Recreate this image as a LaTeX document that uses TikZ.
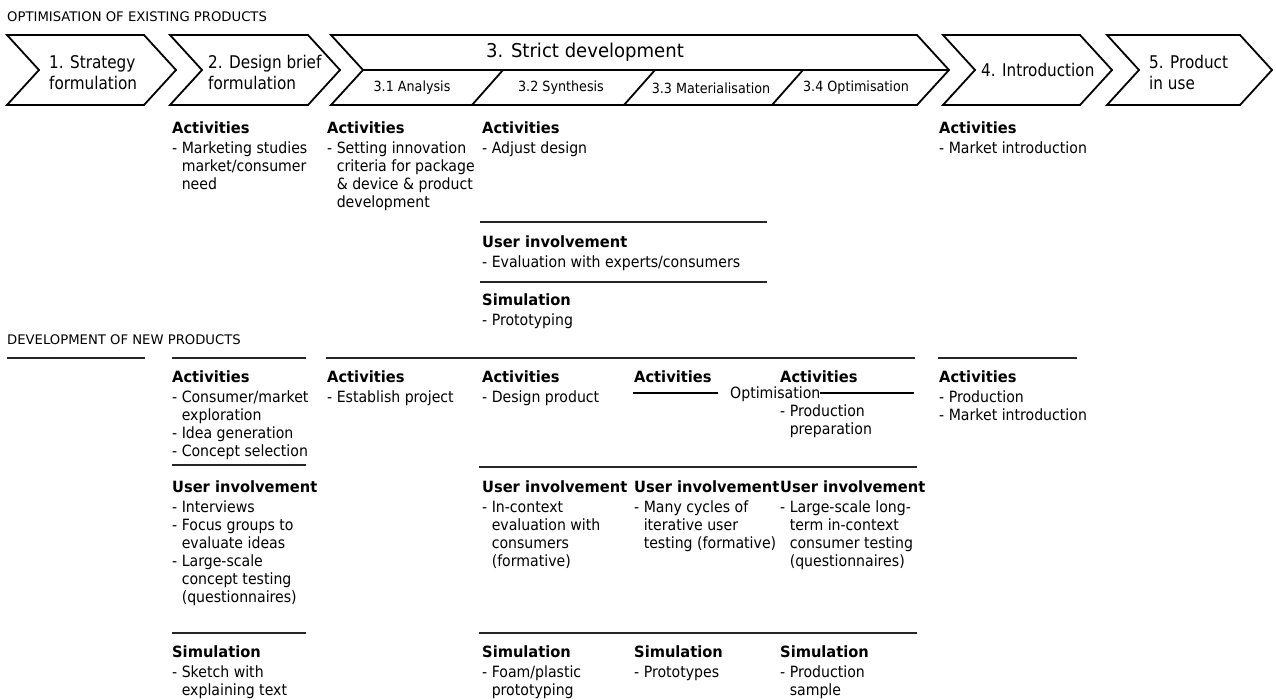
\documentclass[tikz,border=0pt]{standalone}
\usepackage{fontspec}
\setmainfont{DejaVu Sans}[FakeStretch=0.91]
\newfontfamily\headf{DejaVu Sans}[FakeStretch=0.945]
\newfontfamily\capf{DejaVu Sans}
\newfontfamily\arrf{DejaVu Sans}[FakeStretch=0.87]
\newfontfamily\ttlf{DejaVu Sans}[FakeStretch=0.95]
\newcommand\hdr[1]{{\headf\bfseries #1}}
\newcommand\ci{\phantom{- }}
\newcommand\fst{\rule{0pt}{14pt}}
\begin{document}
\begin{tikzpicture}[x=1pt,y=-1pt,
  chev/.style={draw=black,line width=1.8pt,line join=miter,fill=white},
  sepl/.style={draw=black!85,line width=2.5pt},
  optl/.style={draw=black,line width=2pt},
  blk/.style={anchor=north west,inner sep=0pt,align=left,font=\fontsize{15.5}{18}\selectfont},
  alab/.style={inner sep=0pt,align=left,font=\arrf\fontsize{17.5}{21}\selectfont},
  slab/.style={inner sep=0pt,font=\fontsize{14}{16}\selectfont},
  ttl/.style={anchor=west,inner sep=0pt,font=\capf\fontsize{13.2}{15}\selectfont}]
\useasboundingbox (0,0) rectangle (1276,700);

% headers
\node[ttl] (h1) at (7,17) {OPTIMISATION OF EXISTING PRODUCTS};
\node[ttl] (h2) at (7,340) {DEVELOPMENT OF NEW PRODUCTS};

% chevrons
\draw[chev] (7,35) -- (144,35) -- (176,70) -- (144,105) -- (7,105) -- (39,70) -- cycle;
\draw[chev] (170,35) -- (308,35) -- (340,70) -- (308,105) -- (170,105) -- (202,70) -- cycle;
\draw[chev] (331,35) -- (917,35) -- (949,70) -- (917,105) -- (331,105) -- (363,70) -- cycle;
\draw[chev] (943,35) -- (1080,35) -- (1112,70) -- (1080,105) -- (943,105) -- (975,70) -- cycle;
\draw[chev] (1107,35) -- (1240,35) -- (1272,70) -- (1240,105) -- (1107,105) -- (1139,70) -- cycle;
\draw[line width=1.8pt] (363,70) -- (949,70);
\draw[line width=1.8pt] (503,70) -- (472,105);
\draw[line width=1.8pt] (655,70) -- (624,105);
\draw[line width=1.8pt] (803,70) -- (772,105);

\node[alab,anchor=west] (a1) at (49,72.5) {1. Strategy\\formulation};
\node[alab,anchor=west] (a2) at (208,72.5) {2. Design brief\\formulation};
\node[inner sep=0pt,font=\ttlf\fontsize{19}{21}\selectfont] (a3) at (585,52) {3. Strict development};
\node[slab] (a31) at (412,88) {3.1 Analysis};
\node[slab] (a32) at (561,88) {3.2 Synthesis};
\node[slab] (a33) at (711,88) {3.3 Materialisation};
\node[slab] (a34) at (856,88) {3.4 Optimisation};
\node[alab,anchor=west] (a4) at (981,70) {4. Introduction};
\node[alab,anchor=west] (a5) at (1149,72.5) {5. Product\\in use};

% top section
\node[blk] (ta) at (172,119.5) {\fst\hdr{Activities}\\[2pt]- Marketing studies\\\ci market/consumer\\\ci need};
\node[blk] (tb) at (327,119.5) {\fst\hdr{Activities}\\[2pt]- Setting innovation\\\ci criteria for package\\\ci \& device \& product\\\ci development};
\node[blk] (tc) at (482,119.5) {\fst\hdr{Activities}\\[2pt]- Adjust design};
\node[blk] (td) at (939,119.5) {\fst\hdr{Activities}\\[2pt]- Market introduction};
\draw[sepl] (480,222) -- (767,222);
\node[blk] (tcu) at (482,233.5) {\fst\hdr{User involvement}\\[2pt]- Evaluation with experts/consumers};
\draw[sepl] (480,282) -- (767,282);
\node[blk] (tcs) at (482,291.5) {\fst\hdr{Simulation}\\[2pt]- Prototyping};

% lower section
\draw[sepl] (7,358) -- (145,358);
\draw[sepl] (172,358) -- (306,358);
\draw[sepl] (326,358) -- (915,358);
\draw[sepl] (938,358) -- (1077,358);

\node[blk] (la) at (172,368.5) {\fst\hdr{Activities}\\[2pt]- Consumer/market\\\ci exploration\\- Idea generation\\- Concept selection};
\draw[sepl] (172,465) -- (306,465);
\node[blk] (lau) at (172,478.5) {\fst\hdr{User involvement}\\[2pt]- Interviews\\- Focus groups to\\\ci evaluate ideas\\- Large-scale\\\ci concept testing\\\ci (questionnaires)};
\draw[sepl] (172,633) -- (306,633);
\node[blk] (las) at (172,643.5) {\fst\hdr{Simulation}\\[2pt]- Sketch with\\\ci explaining text};

\node[blk] (lb) at (327,368.5) {\fst\hdr{Activities}\\[2pt]- Establish project};

\node[blk] (lc) at (482,368.5) {\fst\hdr{Activities}\\[2pt]- Design product};
\draw[sepl] (479,467) -- (917,467);
\node[blk] (lcu) at (482,478.5) {\fst\hdr{User involvement}\\[2pt]- In-context\\\ci evaluation with\\\ci consumers\\\ci (formative)};
\draw[sepl] (479,633) -- (917,633);
\node[blk] (lcs) at (482,643.5) {\fst\hdr{Simulation}\\[2pt]- Foam/plastic\\\ci prototyping};

\node[blk] (ld) at (634,368.5) {\fst\hdr{Activities}};
\coordinate (ol) at (633,393);
\coordinate (ole) at (718,393);
\coordinate (ors) at (820,393);
\coordinate (or) at (914,393);
\draw[optl] (ol) -- (ole);
\draw[optl] (ors) -- (or);
\node[anchor=base west,inner sep=0pt,font=\fontsize{15.5}{18}\selectfont] (opt) at (730,398) {Optimisation};
\node[blk] (ldu) at (634,478.5) {\fst\hdr{User involvement}\\[2pt]- Many cycles of\\\ci iterative user\\\ci testing (formative)};
\node[blk] (lds) at (634,643.5) {\fst\hdr{Simulation}\\[2pt]- Prototypes};

\node[blk] (le) at (780,368.5) {\fst\hdr{Activities}};
\node[blk] (lep) at (780,402.5) {\fst - Production\\\ci preparation};
\node[blk] (leu) at (780,478.5) {\fst\hdr{User involvement}\\[2pt]- Large-scale long-\\\ci term in-context\\\ci consumer testing\\\ci (questionnaires)};
\node[blk] (les) at (780,643.5) {\fst\hdr{Simulation}\\[2pt]- Production\\\ci sample};

\node[blk] (lf) at (939,368.5) {\fst\hdr{Activities}\\[2pt]- Production\\- Market introduction};
\end{tikzpicture}
\end{document}
